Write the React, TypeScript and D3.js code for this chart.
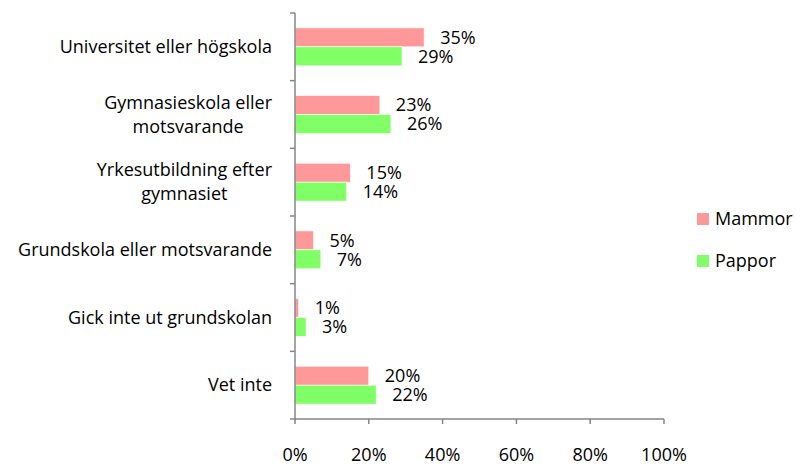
import React, { useRef, useEffect } from 'react';
import * as d3 from 'd3';

// Categories as shown on the chart (top to bottom), split into display lines
const categories = [
  'Universitet eller högskola',
  'Gymnasieskola eller motsvarande',
  'Yrkesutbildning efter gymnasiet',
  'Grundskola eller motsvarande',
  'Gick inte ut grundskolan',
  'Vet inte',
];
const categoryLines = [
  ['Universitet eller högskola'],
  ['Gymnasieskola eller', 'motsvarande'],
  ['Yrkesutbildning efter', 'gymnasiet'],
  ['Grundskola eller motsvarande'],
  ['Gick inte ut grundskolan'],
  ['Vet inte'],
];
const seriesNames = ['Mammor', 'Pappor'];
const mammor = [35, 23, 15, 5, 1, 20];
const pappor = [29, 26, 14, 7, 3, 22];
const xTicks = [0, 20, 40, 60, 80, 100];

const colors = ['#FF9999', '#80FF66'];
const FONT = '"Open Sans", Lato, sans-serif';
const FS = 18;

const App = () => {
  const svgRef = useRef<SVGSVGElement>(null);

  useEffect(() => {
    if (!svgRef.current) return;
    const width = 796;
    const height = 468;
    const margin = { top: 13, left: 295, right: 132, bottom: 49 };
    const innerW = width - margin.left - margin.right;
    const innerH = height - margin.top - margin.bottom;

    const svg = d3.select(svgRef.current);
    svg.selectAll('*').remove();

    const g = svg.append('g').attr('transform', `translate(${margin.left},${margin.top})`);

    const x = d3.scaleLinear().domain([0, 100]).range([0, innerW]);
    const y = d3.scaleBand().domain(categories).range([0, innerH]).paddingInner(0.44).paddingOuter(0.22);
    const sub = d3.scaleBand().domain(seriesNames).range([0, y.bandwidth()]);

    const axisColor = '#868686';

    // bars + labels
    const series = [mammor, pappor];
    series.forEach((vals, si) => {
      categories.forEach((c, i) => {
        const by = (y(c) as number) + (sub(seriesNames[si]) as number);
        g.append('rect')
          .attr('x', 0)
          .attr('y', by)
          .attr('width', x(vals[i]))
          .attr('height', sub.bandwidth())
          .attr('fill', colors[si])
          .attr('stroke', '#ffffff')
          .attr('stroke-width', 0.6);
        g.append('text')
          .attr('x', x(vals[i]) + 16)
          .attr('y', by + sub.bandwidth() / 2)
          .attr('dy', '0.35em')
          .attr('font-family', FONT)
          .attr('font-size', FS)
          .attr('fill', '#000')
          .text(`${vals[i]}%`);
      });
    });

    // y axis line + ticks at category boundaries
    g.append('line')
      .attr('x1', 0).attr('x2', 0).attr('y1', 0).attr('y2', innerH)
      .attr('stroke', axisColor).attr('stroke-width', 1.5);
    const step = innerH / categories.length;
    d3.range(categories.length + 1).forEach(k => {
      g.append('line')
        .attr('x1', -5).attr('x2', 0)
        .attr('y1', k * step).attr('y2', k * step)
        .attr('stroke', axisColor).attr('stroke-width', 1.5);
    });

    // x axis
    g.append('line')
      .attr('x1', 0).attr('x2', innerW).attr('y1', innerH).attr('y2', innerH)
      .attr('stroke', axisColor).attr('stroke-width', 1.5);
    xTicks.forEach(t => {
      g.append('line')
        .attr('x1', x(t)).attr('x2', x(t))
        .attr('y1', innerH).attr('y2', innerH + 5)
        .attr('stroke', axisColor).attr('stroke-width', 1.5);
      g.append('text')
        .attr('x', x(t))
        .attr('y', innerH + 36)
        .attr('dy', '0.35em')
        .attr('text-anchor', 'middle')
        .attr('font-family', FONT)
        .attr('font-size', FS)
        .text(`${t}%`);
    });

    // category labels: block right-aligned, lines centered within block
    categories.forEach((c, i) => {
      const lines = categoryLines[i];
      const cy = (y(c) as number) + y.bandwidth() / 2;
      const lh = 24;
      const tg = g.append('g');
      const texts = lines.map((ln, j) => tg.append('text')
        .attr('y', cy + (j - (lines.length - 1) / 2) * lh)
        .attr('dy', '0.35em')
        .attr('font-family', FONT)
        .attr('font-size', FS)
        .attr('text-anchor', 'middle')
        .text(ln));
      const widths = texts.map(t => (t.node() as SVGTextElement).getComputedTextLength());
      const maxW = Math.max(...widths);
      const centerX = -23 - maxW / 2;
      texts.forEach(t => t.attr('x', centerX));
    });

    // legend
    const legend = svg.append('g').attr('transform', 'translate(697,213)');
    seriesNames.forEach((n, i) => {
      const lg = legend.append('g').attr('transform', `translate(0,${i * 42})`);
      lg.append('rect').attr('width', 12).attr('height', 12).attr('fill', colors[i]);
      lg.append('text')
        .attr('x', 18).attr('y', 6).attr('dy', '0.35em')
        .attr('font-family', FONT).attr('font-size', FS)
        .text(n);
    });
  }, []);

  return (
    <svg ref={svgRef} width={796} height={468}
      style={{ position: 'absolute', left: 0, top: 0, background: '#fff' }} />
  );
};

export default App;
